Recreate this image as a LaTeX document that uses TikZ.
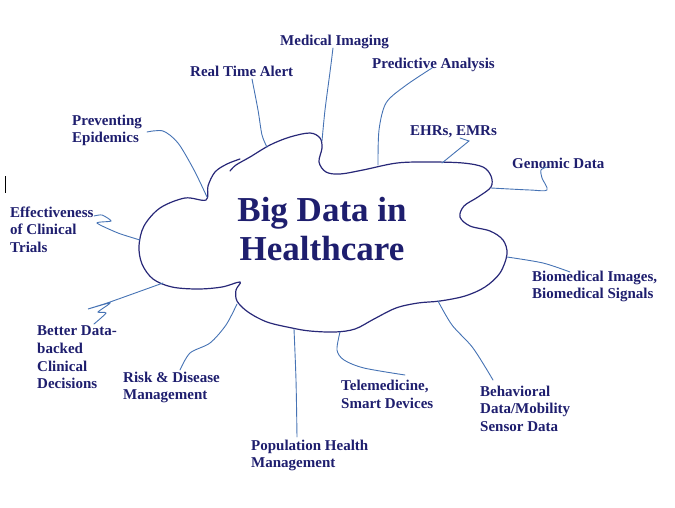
\documentclass[tikz,border=0pt]{standalone}
\usepackage{fontspec}
\setmainfont{Liberation Serif}
\usetikzlibrary{calc}
\definecolor{navy}{RGB}{30,30,110}
\definecolor{cloudline}{RGB}{40,40,120}
\definecolor{twig}{RGB}{70,115,180}
\tikzset{
	label/.style={
		anchor=west,
		inner sep=0pt,
		align=left,
		text=navy,
		font=\fontsize{15}{17.6}\selectfont\bfseries},
	title/.style={
		inner sep=0pt,
		align=center,
		text=navy,
		font=\fontsize{35}{39}\selectfont\bfseries},
	cloud/.style={draw=cloudline, line width=1.2pt, line cap=round},
	twigline/.style={draw=twig, line width=0.9pt, line cap=round},
}

\begin{document}
\begin{tikzpicture}[x=1pt, y=-1pt]
\useasboundingbox (0,0) rectangle (675,507);

% the cloud
\draw[cloud] plot[smooth, tension=0.55] coordinates {
	(230,171) (236,165) (250,157) (270,145) (290,137) (310,133) (320,138)
	(322,148) (319,162) (326,172) (340,174) (363,170) (397,163) (430,162)
	(463,163) (483,167) (491,176) (491,187) (478,197) (464,206) (460,217)
	(470,226) (490,231) (503,240) (507,254) (500,273) (485,287) (465,296)
	(440,301) (418,303) (396,308) (374,319) (355,329) (335,332) (310,331)
	(292,328) (267,322) (248,312) (237,301) (236,290) (240,282) (222,287)
	(198,289) (172,287) (153,279) (142,264) (139,246) (144,226) (160,208)
	(185,198) (206,200) (208,186) (215,172) (227,164) (240,159)};
\coordinate (c-rta) at (267,147);
\coordinate (c-mi) at (322,141);
\coordinate (c-pa) at (378,165);
\coordinate (c-ehr) at (442,163);
\coordinate (c-gen) at (491,188);
\coordinate (c-bio) at (507,257);
\coordinate (c-beh) at (438,301);
\coordinate (c-tel) at (340,332);
\coordinate (c-pop) at (294,329);
\coordinate (c-risk) at (237,304);
\coordinate (c-bdb) at (163,283);
\coordinate (c-eff) at (140,240);
\coordinate (c-prev) at (207,197);

\node[title] (bdh) at (322,229) {Big Data in\\Healthcare};

\node[label] (mi) at (280,41.5) {Medical Imaging};
\node[label] (rta) at (190,71.5) {Real Time Alert};
\node[label] (pa) at (372,64.5) {Predictive Analysis};
\node[label] (ehr) at (410,131.5) {EHRs, EMRs};
\node[label] (gen) at (512,163.5) {Genomic Data};
\node[label] (prev) at (72,130.5) {Preventing\\Epidemics};
\node[label] (eff) at (10,229.5) {Effectiveness\\of Clinical\\Trials};
\node[label] (bdb) at (37,357.5) {Better Data-\\backed\\Clinical\\Decisions};
\node[label] (risk) at (123,387.5) {Risk \& Disease\\Management};
\node[label] (pop) at (251,455.5) {Population Health\\Management};
\node[label] (tel) at (341,394.5) {Telemedicine,\\Smart Devices};
\node[label] (beh) at (480,408.5) {Behavioral\\Data/Mobility\\Sensor Data};
\node[label] (bio) at (532,286.5) {Biomedical Images,\\Biomedical Signals};

% free ends of the twigs
\coordinate (t-rta) at (252,79);
\coordinate (t-mi) at (333,48);
\coordinate (t-pa) at (432,68);
\coordinate (t-ehr) at (460,138);
\coordinate (t-gen) at (547,167);
\coordinate (t-bio) at (570,272);
\coordinate (t-beh) at (493,380);
\coordinate (t-tel) at (405,375);
\coordinate (t-pop) at (297,437);
\coordinate (t-risk) at (180,370);
\coordinate (t-bdb) at (94,324);
\coordinate (t-eff) at (94,216);
\coordinate (t-prev) at (147,132);

\draw[twigline] plot[smooth] coordinates {(t-rta) (258,110) (262,135) (c-rta)};
\draw[twigline] plot[smooth] coordinates {(t-mi) (330,72) (325,110) (c-mi)};
\draw[twigline] plot[smooth] coordinates {(t-pa) (405,86) (386,103) (379,130) (c-pa)};
\draw[twigline] (t-ehr) -- (469,141) -- (c-ehr);
\draw[twigline] plot[smooth] coordinates {(c-gen) (530,190) (547,190) (542,178) (541,170) (t-gen)};
\draw[twigline] plot[smooth] coordinates {(c-bio) (543,263) (t-bio)};
\draw[twigline] plot[smooth] coordinates {(c-beh) (452,325) (473,348) (t-beh)};
\draw[twigline] plot[smooth] coordinates {(c-tel) (337,350) (344,360) (364,368) (t-tel)};
\draw[twigline] plot[smooth] coordinates {(c-pop) (296,380) (t-pop)};
\draw[twigline] plot[smooth] coordinates {(c-risk) (226,325) (210,343) (190,353) (t-risk)};
\draw[twigline] plot[smooth, tension=0.4] coordinates {(c-bdb) (110,302) (88,309) (110,303) (98,312) (106,313) (t-bdb)};
\draw[twigline] plot[smooth, tension=0.4] coordinates {(c-eff) (118,233) (97,223) (111,221) (102,215) (t-eff)};
\draw[twigline] plot[smooth] coordinates {(t-prev) (163,131) (178,143) (194,170) (c-prev)};

% text cursor at the left edge
\draw[black, line width=1pt] (5,176) -- (5,193);
\end{tikzpicture}
\end{document}
